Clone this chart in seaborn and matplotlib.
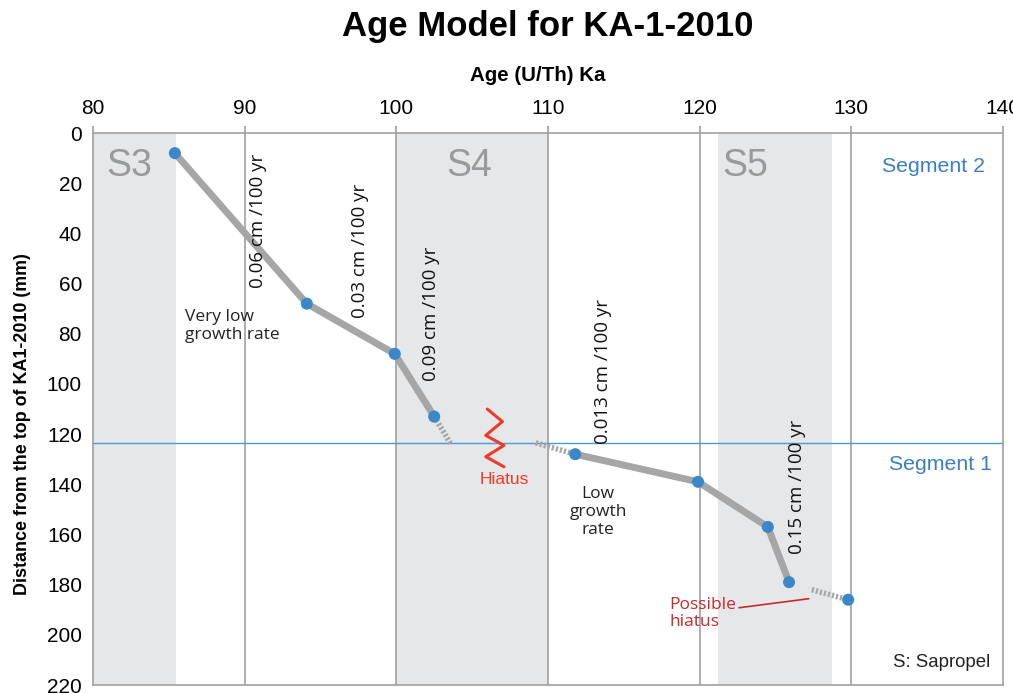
import pandas as pd
import matplotlib.pyplot as plt
import seaborn as sns

# U/Th ages (ka) and depth (mm)
seg2_age = [85.4, 94.1, 99.9, 102.5]
seg2_depth = [8, 68, 88, 113]
seg1_age = [111.8, 119.9, 124.5, 125.9]
seg1_depth = [128, 139, 157, 179]
last_age = [129.8]
last_depth = [186]

# dotted (hiatus) connectors
gap_a_age = [102.5, 103.6]
gap_a_depth = [113, 124]
gap_b_age = [109.2, 111.8]
gap_b_depth = [123.5, 128]
gap_c_age = [127.4, 129.8]
gap_c_depth = [182, 186]

# sapropel bands
sapropels = ["S3", "S4", "S5"]
sap_start = [80.0, 100.0, 121.2]
sap_end = [85.5, 110.0, 128.7]
sap_label_x = [82.4, 104.8, 123.0]

segment_boundary = 123.5

# growth-rate labels: text, x, y(centre)
rate_text = ["0.06 cm /100 yr", "0.03 cm /100 yr", "0.09 cm /100 yr",
             "0.013 cm /100 yr", "0.15 cm /100 yr"]
rate_x = [90.85, 97.6, 102.3, 113.6, 126.4]
rate_y = [35, 47, 72, 95, 141]

# hiatus zigzag
zig_x = [106.0, 107.0, 105.9, 107.1, 105.9, 107.1]
zig_y = [110, 115, 120.5, 124.5, 129, 133]

GREY = "#a6a6a6"
BLUE = "#3a88c9"
SANS = ["Open Sans", "DejaVu Sans"]

sns.set_style("white")
plt.rcParams['font.family'] = ['Liberation Sans', 'DejaVu Sans']
plt.rcParams['text.color'] = 'black'
plt.rcParams['axes.labelcolor'] = 'black'
plt.rcParams['xtick.labelcolor'] = 'black'
plt.rcParams['ytick.labelcolor'] = 'black'

fig = plt.figure(figsize=(10.13, 6.93), dpi=100)
ax = fig.add_axes([0.0918, 0.0115, 0.8982, 0.7965])

for s, a, b, lx in zip(sapropels, sap_start, sap_end, sap_label_x):
    ax.axvspan(a, b, color="#e6e7e9", lw=0, zorder=0)
    ax.text(lx, 13, s, fontsize=27, color="#9a9a9a", ha="center", va="center")

for gx in range(90, 140, 10):
    ax.axvline(gx, color="#a0a0a0", lw=1.2, zorder=1)

ax.axhline(segment_boundary, color="#4a9ad8", lw=1.0, zorder=2)

df2 = pd.DataFrame({"age": seg2_age, "depth": seg2_depth})
df1 = pd.DataFrame({"age": seg1_age, "depth": seg1_depth})
sns.lineplot(data=df2, x="age", y="depth", sort=False, color=GREY, lw=5, ax=ax, zorder=3)
sns.lineplot(data=df1, x="age", y="depth", sort=False, color=GREY, lw=5, ax=ax, zorder=3)
for gx, gy in [(gap_a_age, gap_a_depth), (gap_b_age, gap_b_depth), (gap_c_age, gap_c_depth)]:
    ax.plot(gx, gy, color=GREY, lw=4, ls=(0, (0.4, 0.35)), solid_capstyle="butt",
            dash_capstyle="butt", zorder=3)

pts = pd.DataFrame({"age": seg2_age + seg1_age + last_age,
                    "depth": seg2_depth + seg1_depth + last_depth})
sns.scatterplot(data=pts, x="age", y="depth", color=BLUE, s=75, edgecolor="none",
                ax=ax, zorder=4)

ax.plot(zig_x, zig_y, color="#ee3b24", lw=2.2, zorder=4)
ax.text(107.1, 138, "Hiatus", color="#ee3b24", fontsize=12.5, ha="center", va="center")

for t, x, y in zip(rate_text, rate_x, rate_y):
    ax.text(x, y, t, rotation=90, fontsize=13.5, ha="center", va="center",
            family=SANS, color="#111111")

ax.text(86.1, 77, "Very low\ngrowth rate", fontsize=12.5, ha="left", va="center",
        family=SANS, color="#222222", linespacing=1.2)
ax.text(113.3, 151, "Low\ngrowth\nrate", fontsize=12.5, ha="center", va="center",
        family=SANS, color="#222222", linespacing=1.2)

ax.text(118.0, 191.5, "Possible\nhiatus", fontsize=12.5, ha="left", va="center",
        family=SANS, color="#c8282a", linespacing=1.1)
ax.plot([122.6, 127.2], [189.2, 185.6], color="#c8282a", lw=1.2, zorder=4)

ax.text(135.4, 13.5, "Segment 2", fontsize=15.3, color="#3a7fc4", ha="center", va="center")
ax.text(135.9, 132, "Segment 1", fontsize=15.3, color="#3a7fc4", ha="center", va="center")
ax.text(139.2, 211, "S: Sapropel", fontsize=13.4, color="#222222", ha="right", va="center")

ax.set_xlim(80, 140)
ax.set_ylim(220, 0)
ax.xaxis.tick_top()
ax.xaxis.set_label_position("top")
ax.set_xticks(range(80, 141, 10))
ax.set_yticks(range(0, 221, 20))
ax.tick_params(axis="both", labelsize=15, color="#a0a0a0", length=5, width=1.2,
               direction="out", pad=3)
ax.tick_params(axis="x", pad=6)
for sp in ax.spines.values():
    sp.set_color("#a0a0a0")
    sp.set_linewidth(1.2)

ax.set_xlabel("Age (U/Th) Ka", fontsize=14.8, fontweight="bold", labelpad=12)
ax.xaxis.set_label_coords(0.489, 1.095)
ax.set_ylabel("Distance from the top of KA1-2010 (mm)", fontsize=12.9,
              fontweight="bold")
ax.yaxis.set_label_coords(-0.068, 0.472)
ax.set_title("Age Model for KA-1-2010", fontsize=25, fontweight="bold", pad=70)

fig.savefig("out.png", dpi=100)
